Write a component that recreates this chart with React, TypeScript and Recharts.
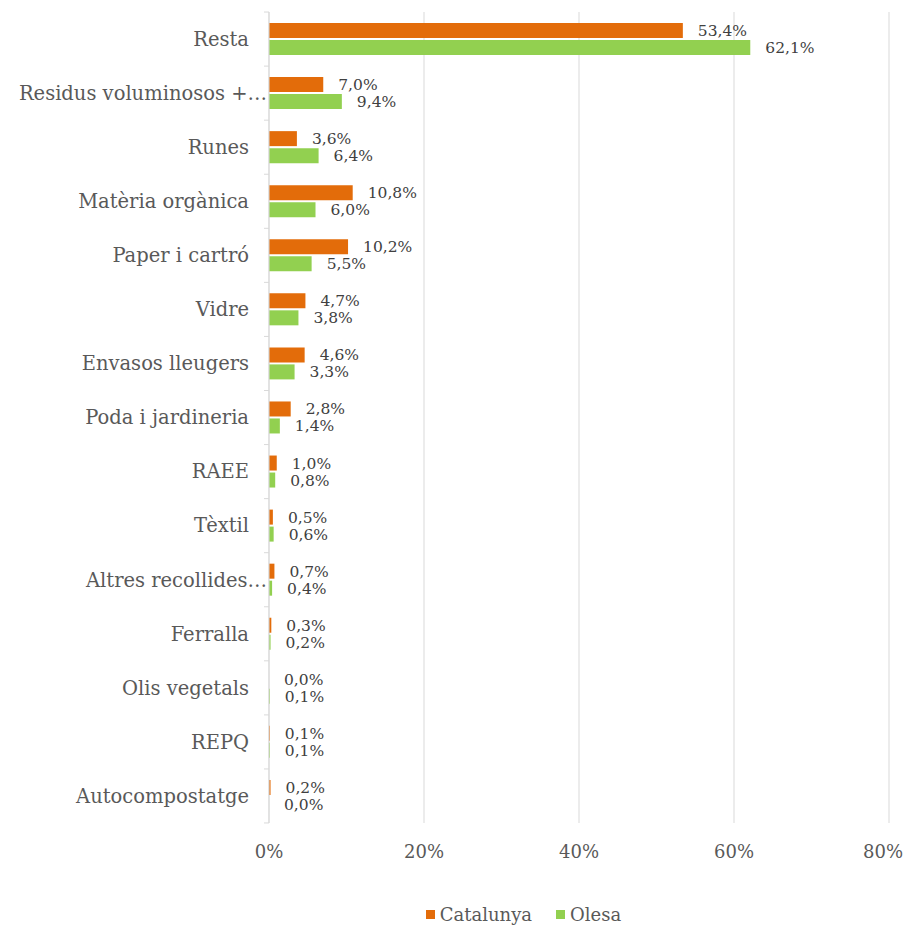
import { BarChart, Bar, XAxis, YAxis, CartesianGrid, Legend, LabelList } from 'recharts';

const CATEGORIES = [
  'Resta',
  'Residus voluminosos +…',
  'Runes',
  'Matèria orgànica',
  'Paper i cartró',
  'Vidre',
  'Envasos lleugers',
  'Poda i jardineria',
  'RAEE',
  'Tèxtil',
  'Altres recollides…',
  'Ferralla',
  'Olis vegetals',
  'REPQ',
  'Autocompostatge',
];
const CATALUNYA = [53.4, 7.0, 3.6, 10.8, 10.2, 4.7, 4.6, 2.8, 1.0, 0.5, 0.7, 0.3, 0.0, 0.1, 0.2];
const OLESA = [62.1, 9.4, 6.4, 6.0, 5.5, 3.8, 3.3, 1.4, 0.8, 0.6, 0.4, 0.2, 0.1, 0.1, 0.0];
const X_TICKS = [0, 20, 40, 60, 80];

const ORANGE = '#E36C0A';
const GREEN = '#92D050';
const TEXT = '#595959';
const FONT = '"DejaVu Serif", serif';

const data = CATEGORIES.map((name, i) => ({
  name,
  catalunya: CATALUNYA[i],
  olesa: OLESA[i],
}));

const pct = (v: number) => `${v.toFixed(1).replace('.', ',')}%`;

function CategoryTick(props: any) {
  const { x, y, payload, index, visibleTicksCount } = props;
  const axisX = x + 20;
  const half = 27;
  // truncated labels run right up to the axis
  const tx = String(payload.value).endsWith('…') ? axisX - 2 : x;
  return (
    <g>
      <line x1={axisX - 5} x2={axisX} y1={y - half} y2={y - half} stroke="#d9d9d9" />
      {index === visibleTicksCount - 1 && (
        <line x1={axisX - 5} x2={axisX} y1={y + half} y2={y + half} stroke="#d9d9d9" />
      )}
      <text x={tx} y={y} dy="0.35em" textAnchor="end" fill={TEXT} fontSize={19.5} fontFamily={FONT}>
        {payload.value}
      </text>
    </g>
  );
}

function LegendContent() {
  const items = [
    { label: 'Catalunya', color: ORANGE },
    { label: 'Olesa', color: GREEN },
  ];
  return (
    <div style={{ display: 'flex', justifyContent: 'center', paddingLeft: 160, fontFamily: FONT }}>
      {items.map((it) => (
        <div key={it.label} style={{ display: 'flex', alignItems: 'center', marginRight: 24 }}>
          <span style={{ width: 9, height: 9, background: it.color, display: 'inline-block', marginRight: 5 }} />
          <span style={{ fontSize: 18, color: TEXT }}>{it.label}</span>
        </div>
      ))}
    </div>
  );
}

export default function App() {
  return (
    <div style={{ fontFamily: FONT }}>
      <BarChart
        width={895}
        height={918}
        data={data}
        layout="vertical"
        margin={{ top: 4, right: 14, bottom: 42, left: 0 }}
        barSize={15}
        barGap={2}
      >
        <CartesianGrid horizontal={false} stroke="#d9d9d9" />
        <XAxis
          type="number"
          domain={[0, 80]}
          ticks={X_TICKS}
          tickFormatter={(v) => `${v}%`}
          axisLine={false}
          tickLine={false}
          tickMargin={16}
          height={40}
          tick={{ fill: TEXT, fontSize: 18, fontFamily: FONT }}
        />
        <YAxis
          type="category"
          dataKey="name"
          width={261}
          interval={0}
          axisLine={{ stroke: '#d9d9d9' }}
          tickLine={false}
          tickSize={0}
          tickMargin={20}
          tick={<CategoryTick />}
        />
        <Legend
          verticalAlign="bottom"
          wrapperStyle={{ top: 896, left: 0, width: 895 }}
          content={<LegendContent />}
        />
        <Bar dataKey="catalunya" name="Catalunya" fill={ORANGE} minPointSize={0.01} isAnimationActive={false}>
          <LabelList
            dataKey="catalunya"
            position="right"
            offset={15}
            formatter={(v: any) => pct(Number(v))}
            style={{ fill: '#404040', fontSize: 15.5, fontFamily: FONT }}
          />
        </Bar>
        <Bar dataKey="olesa" name="Olesa" fill={GREEN} minPointSize={0.01} isAnimationActive={false}>
          <LabelList
            dataKey="olesa"
            position="right"
            offset={15}
            formatter={(v: any) => pct(Number(v))}
            style={{ fill: '#404040', fontSize: 15.5, fontFamily: FONT }}
          />
        </Bar>
      </BarChart>
    </div>
  );
}
